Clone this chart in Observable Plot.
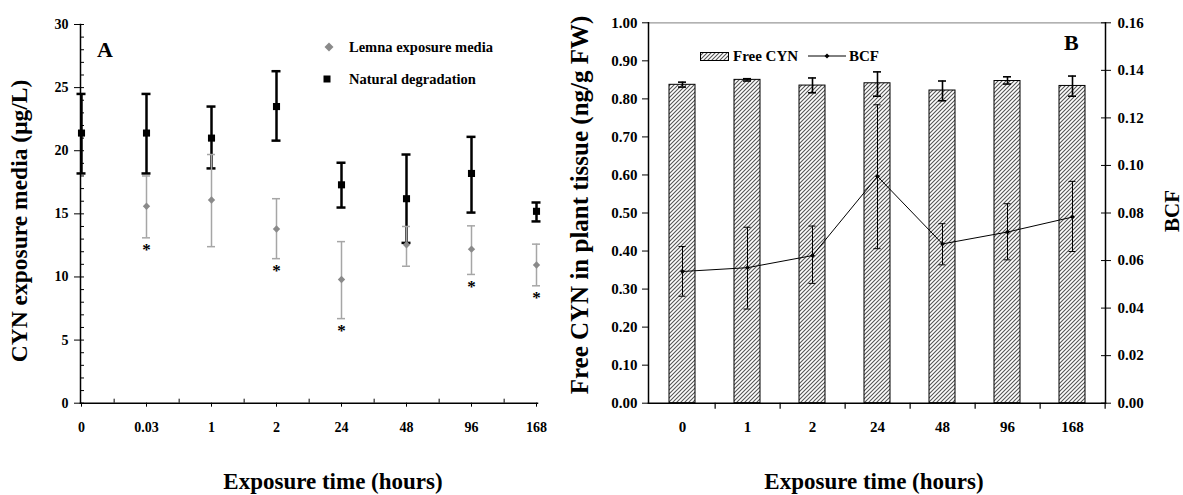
<!DOCTYPE html>
<html><head><meta charset="utf-8">
<script src="https://cdn.jsdelivr.net/npm/d3@7"></script>
<script src="https://cdn.jsdelivr.net/npm/@observablehq/plot@0.6"></script>
<style>
html,body{margin:0;padding:0;background:#fff;}
#root{position:relative;width:1183px;height:495px;overflow:hidden;font-family:"Liberation Serif","Times New Roman",serif;font-weight:bold;color:#000;}
.abs{position:absolute;white-space:nowrap;line-height:1;}
.panel{position:absolute;top:0;}
</style></head><body>
<svg width="0" height="0" style="position:absolute"><defs>
<pattern id="hatch" patternUnits="userSpaceOnUse" width="4" height="4">
<rect width="4" height="4" fill="#fff"/>
<path d="M-1,1 l2,-2 M0,4 l4,-4 M3,5 l2,-2" stroke="#555" stroke-width="1.1"/>
</pattern></defs></svg>
<div id="root"></div>
<script>
// ---------- Panel A data ----------
const catsA = ["0","0.03","1","2","24","48","96","168"];
const natural   = [21.4, 21.4, 21.0, 23.5, 17.3, 16.2, 18.2, 15.2];
const naturalLo = [18.2, 18.2, 18.6, 20.8, 15.5, 12.7, 15.1, 14.4];
const naturalHi = [24.5, 24.5, 23.5, 26.3, 19.05, 19.7, 21.1, 15.9];
const lemna     = [null, 15.6, 16.1, 13.8, 9.8, 12.55, 12.2, 10.95];
const lemnaLo   = [null, 13.1, 12.4, 11.45, 6.7, 10.85, 10.2, 9.3];
const lemnaHi   = [null, 18.0, 19.7, 16.2, 12.8, 14.0, 14.05, 12.6];
const sigA = ["0.03","2","24","96","168"];
const yTicksA = [0,5,10,15,20,25,30];
const minorA = d3.range(0, 31, 1);

// ---------- Panel B data ----------
const catsB = ["0","1","2","24","48","96","168"];
const freeCYN = [0.837, 0.850, 0.835, 0.841, 0.822, 0.847, 0.834];
const freeLo  = [0.831, 0.847, 0.816, 0.807, 0.795, 0.839, 0.807];
const freeHi  = [0.844, 0.853, 0.855, 0.871, 0.847, 0.858, 0.860];
const bcf     = [0.0554, 0.0570, 0.0621, 0.0954, 0.0670, 0.0720, 0.0783];
const bcfLo   = [0.0450, 0.0396, 0.0504, 0.0650, 0.0582, 0.0603, 0.0638];
const bcfHi   = [0.0659, 0.0740, 0.0745, 0.1255, 0.0755, 0.0839, 0.0933];
const yTicksB = [0,0.1,0.2,0.3,0.4,0.5,0.6,0.7,0.8,0.9,1.0];
const yTicksR = [0,0.02,0.04,0.06,0.08,0.10,0.12,0.14,0.16];

const rowsA = catsA.map((c,i)=>({cat:c, nat:natural[i], natLo:naturalLo[i], natHi:naturalHi[i], lem:lemna[i], lemLo:lemnaLo[i], lemHi:lemnaHi[i]}));
const lemRows = rowsA.filter(d=>d.lem!=null);
const sigRows = lemRows.filter(d=>sigA.includes(d.cat));
const rowsB = catsB.map((c,i)=>({cat:c, free:freeCYN[i], freeLo:freeLo[i], freeHi:freeHi[i], bcf:bcf[i], bcfLo:bcfLo[i], bcfHi:bcfHi[i]}));

const FONT = '"Liberation Serif","Times New Roman",serif';
const styleA = {fontFamily: FONT, fontSize: "14px", fontWeight: "bold", color: "#000", background: "transparent", overflow: "visible"};
const styleB = {...styleA, fontSize: "15px"};
const H = 495;
const root = document.getElementById("root");

// ---------- Panel A ----------
const WA = 555, mAL = 80, mAR = 18;
const stepA = (WA - mAL - mAR) / (catsA.length - 1);
const chartA = Plot.plot({
  width: WA, height: H, marginLeft: mAL, marginRight: mAR, marginTop: 24, marginBottom: 92.3,
  style: styleA,
  x: {type: "point", domain: catsA, padding: 0, label: null},
  y: {domain: [0, 30], label: null},
  marks: [
    Plot.frame({anchor: "left", stroke: "#000", strokeWidth: 1.5}),
    Plot.frame({anchor: "bottom", stroke: "#000", strokeWidth: 1.5}),
    Plot.axisY({ticks: yTicksA, tickSize: 6, tickPadding: 6, label: null}),
    Plot.ruleY(minorA, {y: d=>d, x1: ()=>catsA[0], x2: ()=>catsA[0], insetRight: -3}),
    Plot.axisX({tickSize: 4, tickPadding: 15, label: null}),
    Plot.ruleX(catsA.slice(0, -1), {x: d=>d, y1: ()=>0, y2: ()=>0, insetBottom: 4, dx: stepA/2}),
    // Natural degradation
    Plot.ruleX(rowsA, {x: "cat", y1: "natLo", y2: "natHi", stroke: "#000", strokeWidth: 2.5}),
    Plot.ruleY(rowsA, {x1: "cat", x2: "cat", y: "natHi", insetLeft: -4.5, insetRight: -4.5, stroke: "#000", strokeWidth: 2.5}),
    Plot.ruleY(rowsA, {x1: "cat", x2: "cat", y: "natLo", insetLeft: -4.5, insetRight: -4.5, stroke: "#000", strokeWidth: 2.5}),
    Plot.dot(rowsA, {x: "cat", y: "nat", symbol: "square", r: 4, fill: "#000"}),
    // Lemna exposure media
    Plot.ruleX(lemRows, {x: "cat", y1: "lemLo", y2: "lemHi", stroke: "#a6a6a6", strokeWidth: 1.5}),
    Plot.ruleY(lemRows, {x1: "cat", x2: "cat", y: "lemHi", insetLeft: -4, insetRight: -4, stroke: "#a6a6a6", strokeWidth: 1.5}),
    Plot.ruleY(lemRows, {x1: "cat", x2: "cat", y: "lemLo", insetLeft: -4, insetRight: -4, stroke: "#a6a6a6", strokeWidth: 1.5}),
    Plot.dot(lemRows, {x: "cat", y: "lem", symbol: "diamond2", r: 3.3, fill: "#8a8a8a"}),
    Plot.text(sigRows, {x: "cat", y: "lemLo", text: ()=>"*", lineAnchor: "top", dy: 5, fontSize: 17, fill: "#000"})
  ]
});
chartA.classList.add("panel");
chartA.style.left = "0px";
root.appendChild(chartA);

// ---------- Panel B ----------
const LB = 555, WB = 628, mBL = 93, mBR = 78;
const stepB = (WB - mBL - mBR) / catsB.length;
const xB = {type: "band", domain: catsB, paddingInner: 0.6, paddingOuter: 0.3, label: null};
const chartB = Plot.plot({
  width: WB, height: H, marginLeft: mBL, marginRight: mBR, marginTop: 22.3, marginBottom: 92.3,
  style: styleB,
  x: xB,
  y: {domain: [0, 1], label: null},
  marks: [
    Plot.ruleY([1], {stroke: "#999", strokeWidth: 1.2}),
    Plot.barY(rowsB, {x: "cat", y: "free", fill: "url(#hatch)", stroke: "#000", strokeWidth: 1}),
    Plot.ruleX(rowsB, {x: "cat", y1: "freeLo", y2: "freeHi", stroke: "#000", strokeWidth: 1.6}),
    Plot.tickY(rowsB, {x: "cat", y: "freeHi", insetLeft: 9, insetRight: 9, stroke: "#000", strokeWidth: 1.6}),
    Plot.tickY(rowsB, {x: "cat", y: "freeLo", insetLeft: 9, insetRight: 9, stroke: "#000", strokeWidth: 1.6}),
    Plot.frame({anchor: "left", stroke: "#000", strokeWidth: 1.5}),
    Plot.frame({anchor: "bottom", stroke: "#000", strokeWidth: 1.5}),
    Plot.axisY({ticks: yTicksB, tickSize: 6, tickPadding: 5, tickFormat: ".2f", label: null}),
    Plot.axisX({tickSize: 0, tickPadding: 18, label: null}),
    Plot.ruleX(catsB, {x: d=>d, y1: ()=>0, y2: ()=>0, insetBottom: -6, dx: stepB/2, stroke: "#000", strokeWidth: 1.2})
  ]
});
chartB.classList.add("panel");
chartB.style.left = LB + "px";
root.appendChild(chartB);

const chartB2 = Plot.plot({
  width: WB, height: H, marginLeft: mBL, marginRight: mBR, marginTop: 22.3, marginBottom: 92.3,
  style: styleB,
  x: {...xB, axis: null},
  y: {domain: [0, 0.16], label: null},
  marks: [
    Plot.frame({anchor: "right", stroke: "#000", strokeWidth: 1.5}),
    Plot.axisY({anchor: "right", ticks: yTicksR, tickSize: 10, dx: -5, tickFormat: ()=>"", label: null}),
    Plot.axisY({anchor: "right", ticks: yTicksR, tickSize: 0, tickPadding: 12, tickFormat: ".2f", label: null}),
    Plot.ruleX(rowsB, {x: "cat", y1: "bcfLo", y2: "bcfHi", stroke: "#000", strokeWidth: 1}),
    Plot.tickY(rowsB, {x: "cat", y: "bcfHi", insetLeft: 9.5, insetRight: 9.5, stroke: "#000", strokeWidth: 1}),
    Plot.tickY(rowsB, {x: "cat", y: "bcfLo", insetLeft: 9.5, insetRight: 9.5, stroke: "#000", strokeWidth: 1}),
    Plot.line(rowsB, {x: "cat", y: "bcf", stroke: "#000", strokeWidth: 1}),
    Plot.dot(rowsB, {x: "cat", y: "bcf", symbol: "diamond2", r: 2.2, fill: "#000"})
  ]
});
chartB2.classList.add("panel");
chartB2.style.left = LB + "px";
root.appendChild(chartB2);

// ---------- Text & legends ----------
function label(text, x, y, size, opts = {}) {
  const d = document.createElement("div");
  d.className = "abs";
  d.textContent = text;
  d.style.left = x + "px";
  d.style.top = y + "px";
  d.style.fontSize = size + "px";
  d.style.transform = opts.rotate ? "translate(-50%,-50%) rotate(-90deg)" : (opts.center ? "translate(-50%,-50%)" : "translate(0,-50%)");
  root.appendChild(d);
  return d;
}
function icon(html, x, y, w, h) {
  const d = document.createElement("div");
  d.className = "abs";
  d.style.left = x + "px"; d.style.top = y + "px";
  d.innerHTML = `<svg width="${w}" height="${h}" style="display:block">${html}</svg>`;
  root.appendChild(d);
}
// Panel A
label("A", 97, 50, 22);
icon(`<polygon points="5,0.5 9.5,5 5,9.5 0.5,5" fill="#8a8a8a"/>`, 324, 42, 10, 10);
label("Lemna exposure media", 349, 47, 14.5);
icon(`<rect x="1.5" y="1.5" width="7" height="7" fill="#000"/>`, 322, 74, 10, 10);
label("Natural degradation", 349, 79, 14.5);
label("CYN exposure media (μg/L)", 20, 221, 23.5, {rotate: true});
label("Exposure time (hours)", 333, 481, 23, {center: true});
// Panel B
label("B", 1064, 43, 22);
icon(`<rect x="0.5" y="0.5" width="28" height="8" fill="url(#hatch)" stroke="#000" stroke-width="1"/>`, 700, 52, 30, 10);
label("Free CYN", 733, 56, 15);
icon(`<line x1="0" y1="5" x2="38" y2="5" stroke="#000" stroke-width="1"/><polygon points="19,2.5 21.5,5 19,7.5 16.5,5" fill="#000"/>`, 808, 51, 38, 10);
label("BCF", 849, 56, 15);
label("Free CYN in plant tissue (ng/g FW)", 579, 205, 25, {rotate: true});
label("BCF", 1172, 211, 21, {rotate: true});
label("Exposure time (hours)", 874, 481, 23, {center: true});
</script>
</body></html>
